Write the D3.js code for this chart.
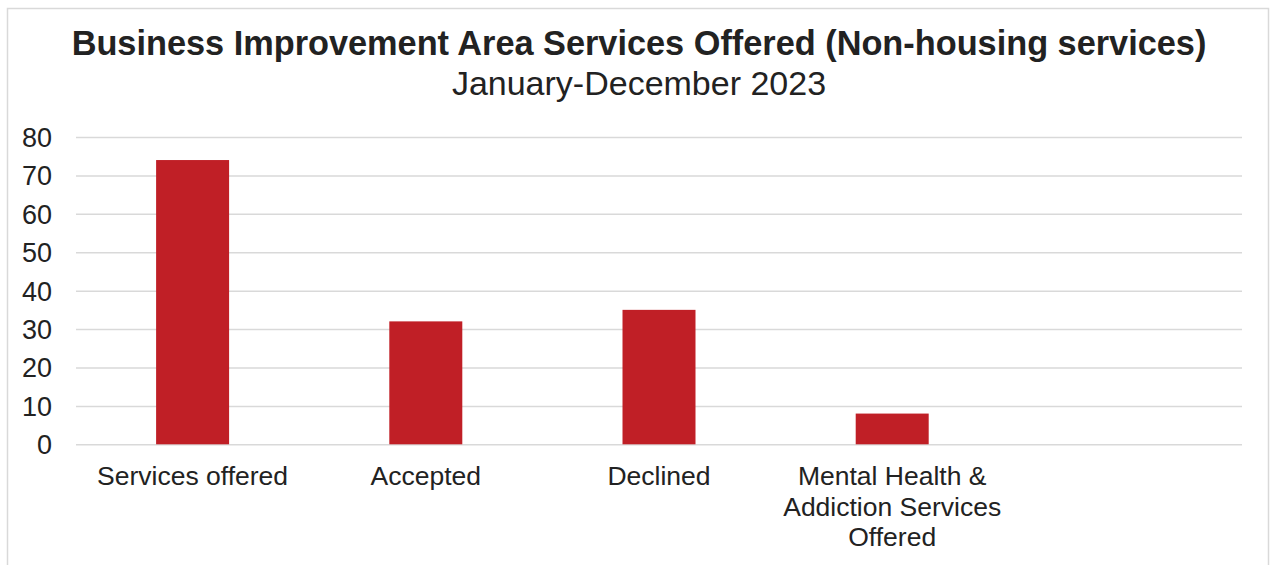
<!DOCTYPE html>
<html><head><meta charset="utf-8">
<script src="https://cdn.jsdelivr.net/npm/d3@7"></script>
<style>html,body{margin:0;padding:0;background:#fff;}svg{display:block;font-family:"Liberation Sans",Arial,sans-serif;}</style>
</head><body>
<svg id="c" width="1270" height="565"></svg>
<script>
const categories = ["Services offered", "Accepted", "Declined", "Mental Health & Addiction Services Offered", ""];
const values = [74, 32, 35, 8, null];
const yTicks = [0, 10, 20, 30, 40, 50, 60, 70, 80];
const labelLines = [["Services offered"], ["Accepted"], ["Declined"], ["Mental Health &", "Addiction Services", "Offered"], [""]];
const title = "Business Improvement Area Services Offered (Non-housing services)";
const subtitle = "January-December 2023";

const svg = d3.select("#c");
svg.append("rect").attr("x", 7.5).attr("y", 8.5).attr("width", 1261).attr("height", 570)
  .attr("fill", "#fff").attr("stroke", "#d9d9d9").attr("stroke-width", 1.5);

const pLeft = 76, pRight = 1242, pTop = 137, pBottom = 444.3;
const x = d3.scaleBand().domain(d3.range(categories.length)).range([pLeft, pRight]).paddingInner(0.687).paddingOuter(0.3435);
const y = d3.scaleLinear().domain([0, 80]).range([pBottom, pTop]);

svg.append("text").attr("x", 639).attr("y", 55).attr("text-anchor", "middle")
  .attr("font-size", 34.3).attr("font-weight", "bold").attr("fill", "#222").text(title);
svg.append("text").attr("x", 639).attr("y", 95).attr("text-anchor", "middle")
  .attr("font-size", 34).attr("fill", "#222").text(subtitle);

const yAxis = d3.axisLeft(y).tickValues(yTicks).tickSize(-(pRight - pLeft)).tickPadding(24);
const gy = svg.append("g").attr("transform", `translate(${pLeft},0)`).call(yAxis);
gy.select(".domain").remove();
gy.selectAll(".tick line").attr("stroke", "#d9d9d9").attr("stroke-width", 1.5);
gy.selectAll(".tick text").attr("font-size", 27).attr("fill", "#222")
  .attr("font-family", "Liberation Sans, Arial, sans-serif").attr("dy", "0.35em");

svg.append("g").selectAll("rect").data(values.map((v, i) => ({v, i})).filter(d => d.v != null))
  .join("rect")
  .attr("x", d => x(d.i)).attr("width", x.bandwidth())
  .attr("y", d => y(d.v)).attr("height", d => y(0) - y(d.v))
  .attr("fill", "#c01f26");

const xAxis = d3.axisBottom(x).tickSize(0).tickFormat(() => "");
const gx = svg.append("g").attr("transform", `translate(0,${pBottom})`).call(xAxis);
gx.select(".domain").remove();
gx.selectAll(".tick").each(function(d) {
  const t = d3.select(this).append("text").attr("text-anchor", "middle").attr("font-size", 26.5)
    .attr("fill", "#222").attr("y", 41).attr("font-family", "Liberation Sans, Arial, sans-serif");
  labelLines[d].forEach((ln, k) => {
    t.append("tspan").attr("x", 0).attr("dy", k === 0 ? 0 : 30.5).text(ln);
  });
});
</script>
</body></html>
